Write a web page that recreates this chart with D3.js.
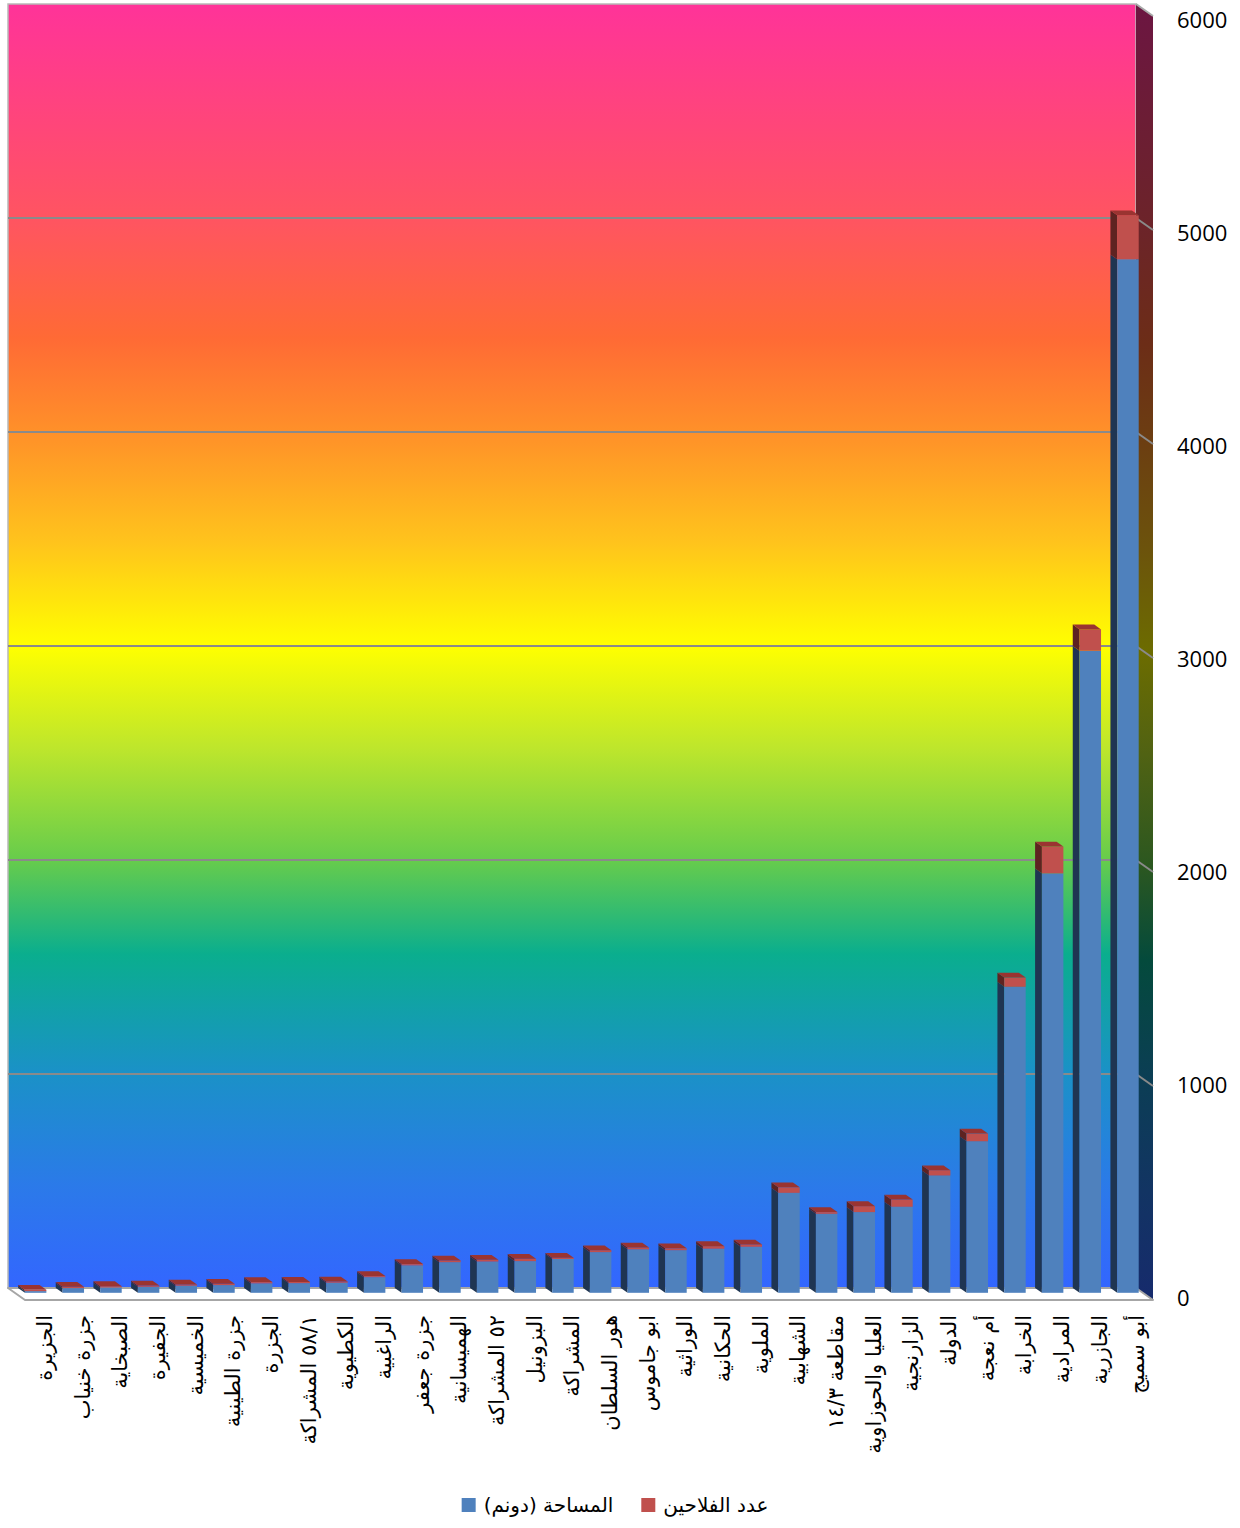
<!DOCTYPE html>
<html>
<head>
<meta charset="utf-8">
<script src="https://cdn.jsdelivr.net/npm/d3@7"></script>
<style>
  body { margin: 0; background: #ffffff; }
  svg { display: block; }
</style>
</head>
<body>
<svg id="chart" width="1240" height="1528"></svg>
<script>
// Villages / districts, ordered by total size
const categories = [
  "الجزيرة", "جزرة خنياب", "الصبخاية", "الجفيرة", "الخميسية",
  "جزرة الطينية", "الجزرة", "٥٨/١ المشراكة", "الكطيوية", "الراغبية",
  "جزرة جعفر", "الهميسانية", "٥٢ المشراكة", "البزونيل", "المشراكة",
  "هور السلطان", "ابو جاموس", "الوراثية", "الحكانية", "الملوية",
  "الشهابية", "مقاطعة ١٤/٣", "العليا والحوزاوية", "الزارنجية", "الدولة",
  "أم نعجة", "الخرابة", "المرادية", "الجازرية", "أبو سميج"
];

// المساحة (دونم)
const areaValues = [
  8, 22, 25, 28, 33,
  36, 44, 45, 47, 73,
  128, 143, 146, 148, 158,
  190, 203, 199, 206, 215,
  467, 369, 377, 402, 548,
  708, 1430, 1960, 3000, 4830
];

// عدد الفلاحين
const farmerValues = [
  6, 6, 6, 6, 6,
  6, 6, 6, 6, 5,
  6, 8, 8, 11, 6,
  9, 9, 9, 12, 11,
  26, 8, 28, 34, 25,
  36, 43, 125, 100, 205
];

const seriesKeys = ["area", "farmers"];
const seriesNames = ["المساحة (دونم)", "عدد الفلاحين"];
const tickValues = [0, 1000, 2000, 3000, 4000, 5000, 6000];

// ---- layout of the 3D box ----
const wall = { left: 8, right: 1136, top: 4, bottom: 1288 };
const depth = { dx: 17, dy: 12 };      // back wall -> front edge of floor
const barDepth = 0.4;                   // share of the depth taken by a column

const svg = d3.select("#chart");

const y = d3.scaleLinear().domain([0, 6000]).range([wall.bottom, wall.top]);
// value axis labels sit on the front edge, pulled slightly toward the middle
const yFront = d3.scaleLinear().domain([0, 6000])
  .range([wall.bottom + depth.dy - 2, wall.top + depth.dy + 4]);
const x = d3.scaleBand().domain(categories)
  .range([10, 1140]).paddingInner(0.43).paddingOuter(0.215);

// point on the back plane (xb, value) pushed forward by t of the depth
const P = (xb, v, t) => [xb + t * depth.dx, y(v) + t * depth.dy];
const poly = pts => pts.map(p => p.join(",")).join(" ");

// ---- gradients ----
const defs = svg.append("defs");
const wallStops = [
  [0.00, "#ff3399"],
  [0.17, "#ff5560"],
  [0.26, "#ff6a35"],
  [0.34, "#ff9428"],
  [0.42, "#ffc41c"],
  [0.50, "#ffff00"],
  [0.58, "#bde62c"],
  [0.667, "#66cc4c"],
  [0.74, "#0aae8e"],
  [0.83, "#1a92c6"],
  [0.92, "#2b7ae9"],
  [1.00, "#3366ff"]
];
const backGrad = defs.append("linearGradient").attr("id", "backWall")
  .attr("gradientUnits", "userSpaceOnUse")
  .attr("x1", 0).attr("x2", 0).attr("y1", wall.top).attr("y2", wall.bottom);
backGrad.selectAll("stop").data(wallStops).join("stop")
  .attr("offset", d => d[0]).attr("stop-color", d => d[1]);

// the side wall is the same rainbow in shadow
const sideGrad = defs.append("linearGradient").attr("id", "sideWall")
  .attr("gradientUnits", "userSpaceOnUse")
  .attr("x1", 0).attr("x2", 0).attr("y1", wall.top + 6).attr("y2", wall.bottom + 6);
sideGrad.selectAll("stop").data(wallStops).join("stop")
  .attr("offset", d => d[0])
  .attr("stop-color", d => d3.rgb(d[1]).darker(2.4).formatHex());

// ---- walls and floor ----
svg.append("rect")
  .attr("x", wall.left).attr("y", y(6000))
  .attr("width", wall.right - wall.left).attr("height", y(0) - y(6000))
  .attr("fill", "url(#backWall)")
  .attr("stroke", "#b8b8b8").attr("stroke-width", 1.5);

svg.append("polygon")
  .attr("points", poly([P(wall.right, 6000, 0), P(wall.right, 6000, 1),
                        P(wall.right, 0, 1), P(wall.right, 0, 0)]))
  .attr("fill", "url(#sideWall)");
svg.append("line")
  .attr("x1", P(wall.right, 6000, 0)[0]).attr("y1", P(wall.right, 6000, 0)[1])
  .attr("x2", P(wall.right, 6000, 1)[0]).attr("y2", P(wall.right, 6000, 1)[1])
  .attr("stroke", "#a8a8a8").attr("stroke-width", 2);

svg.append("polygon")
  .attr("points", poly([P(wall.left, 0, 0), P(wall.right, 0, 0),
                        P(wall.right, 0, 1), P(wall.left, 0, 1)]))
  .attr("fill", "#ffffff")
  .attr("stroke", "#a6a6a6").attr("stroke-width", 2).attr("stroke-linejoin", "round");

// ---- gridlines (back wall + side wall) ----
const grid = svg.append("g").attr("stroke", "#8a8a8a").attr("stroke-width", 2);
const gridVals = tickValues.filter(v => v > 0 && v < 6000);
grid.selectAll("line.back").data(gridVals).join("line").attr("class", "back")
  .attr("x1", wall.left).attr("x2", wall.right)
  .attr("y1", d => y(d)).attr("y2", d => y(d));
grid.selectAll("line.side").data(gridVals).join("line").attr("class", "side")
  .attr("x1", wall.right).attr("y1", d => y(d))
  .attr("x2", wall.right + depth.dx).attr("y2", d => y(d) + depth.dy);

// ---- stacked 3D columns ----
const rows = categories.map((c, i) => ({ cat: c, area: areaValues[i], farmers: farmerValues[i] }));
const stacked = d3.stack().keys(seriesKeys)(rows);

const faceColors = {
  area:    { front: "#4f81bd", side: "#1f3552", top: "#3a5f8c" },
  farmers: { front: "#c0504d", side: "#5e2321", top: "#9a3431" }
};

const bw = x.bandwidth();
const bars = svg.append("g");
categories.forEach((cat, i) => {
  const xb = x(cat);
  const g = bars.append("g");
  stacked.forEach((layer, li) => {
    const [v0, v1] = layer[i];
    const col = faceColors[layer.key];
    // left side face
    g.append("polygon")
      .attr("points", poly([P(xb, v0, 0), P(xb, v1, 0), P(xb, v1, barDepth), P(xb, v0, barDepth)]))
      .attr("fill", col.side);
    // front face
    const f0 = P(xb, v1, barDepth);
    g.append("rect")
      .attr("x", f0[0]).attr("y", f0[1])
      .attr("width", bw).attr("height", y(v0) - y(v1))
      .attr("fill", col.front);
    // top face of the uppermost segment
    if (li === stacked.length - 1) {
      g.append("polygon")
        .attr("points", poly([P(xb, v1, 0), P(xb + bw, v1, 0), P(xb + bw, v1, barDepth), P(xb, v1, barDepth)]))
        .attr("fill", col.top);
    }
  });
});

// ---- value axis on the right ----
const axis = d3.axisRight(yFront).tickValues(tickValues).tickSize(0).tickPadding(24)
  .tickFormat(d3.format("d"));
const axG = svg.append("g")
  .attr("transform", `translate(${wall.right + depth.dx},0)`)
  .call(axis);
axG.select(".domain").remove();
axG.selectAll("text")
  .attr("font-family", "'Open Sans', 'Liberation Sans', sans-serif")
  .attr("font-size", 22).attr("fill", "#000");

// ---- category labels (rotated) ----
svg.append("g").selectAll("text").data(categories).join("text")
  .attr("transform", d => {
    const cx = x(d) + bw / 2 + depth.dx - 1;
    return `translate(${cx},${wall.bottom + depth.dy + 15}) rotate(-90)`;
  })
  .attr("text-anchor", "end")
  .attr("dominant-baseline", "central")
  .attr("font-family", "'DejaVu Sans', sans-serif")
  .attr("font-size", 21)
  .attr("fill", "#000")
  .text(d => d);

// ---- legend ----
const legendItems = [
  { name: seriesNames[0], color: faceColors.area.front },
  { name: seriesNames[1], color: faceColors.farmers.front }
];
const legend = svg.append("g");
const legendY = 1505;
let lx = 0;
legendItems.forEach((it, i) => {
  const g = legend.append("g");
  g.append("rect").attr("x", lx).attr("y", legendY - 7).attr("width", 14).attr("height", 14)
    .attr("fill", it.color);
  const t = g.append("text")
    .attr("x", lx + 22).attr("y", legendY)
    .attr("dominant-baseline", "central")
    .attr("font-family", "'DejaVu Sans', sans-serif")
    .attr("font-size", 20).attr("fill", "#000")
    .text(it.name);
  lx += 22 + t.node().getComputedTextLength() + 28;
});
const legendWidth = lx - 28;
legend.attr("transform", `translate(${615 - legendWidth / 2},0)`);
</script>
</body>
</html>
